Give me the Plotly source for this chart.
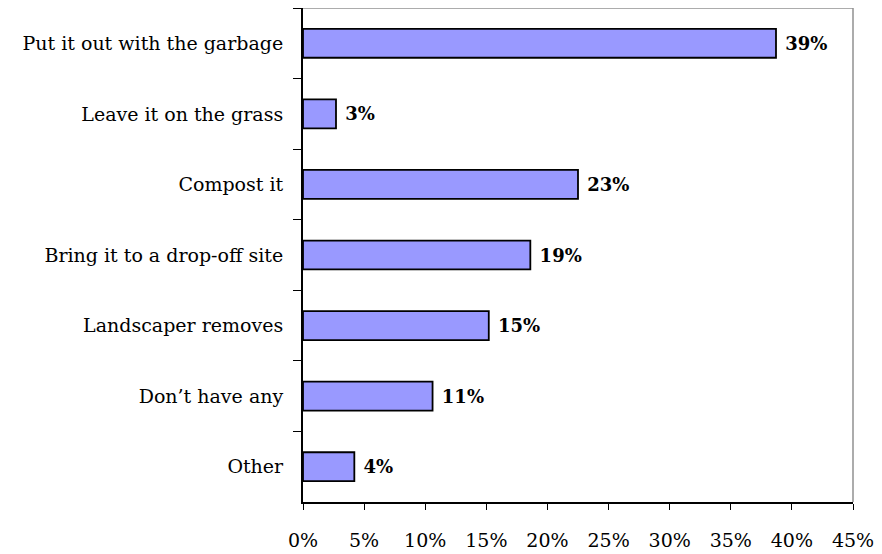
import plotly.graph_objects as go

categories = ["Put it out with the garbage", "Leave it on the grass", "Compost it",
              "Bring it to a drop-off site", "Landscaper removes", "Don\u2019t have any", "Other"]
values = [38.7, 2.7, 22.5, 18.6, 15.2, 10.6, 4.2]
value_labels = ["39%", "3%", "23%", "19%", "15%", "11%", "4%"]
tick_vals = [0, 5, 10, 15, 20, 25, 30, 35, 40, 45]
tick_text = ["0%", "5%", "10%", "15%", "20%", "25%", "30%", "35%", "40%", "45%"]

FONT = "DejaVu Serif"

fig = go.Figure(go.Bar(
    x=values, y=categories, orientation="h",
    marker=dict(color="#9999FF", line=dict(color="black", width=1.8)),
    width=0.41,
    text=value_labels, textposition="outside",
    texttemplate="\u00a0%{text}",
    textfont=dict(family=FONT, size=18, color="black", weight="bold"),
    cliponaxis=False,
))

# page body has an 8px margin, so margins are offset by 8px
fig.update_layout(
    width=882, height=554,
    margin=dict(l=295, r=37, t=0, b=60, pad=0, autoexpand=False),
    paper_bgcolor="white", plot_bgcolor="white",
    showlegend=False,
    font=dict(family=FONT, size=19, color="black"),
    bargap=0.59,
    xaxis=dict(range=[0, 45], tickvals=tick_vals, ticktext=tick_text,
               automargin=False,
               showgrid=False, zeroline=False, showline=True, linecolor="black", linewidth=1.5,
               ticks="outside", ticklen=6, tickcolor="black", tickwidth=1,
               ticklabelstandoff=14, tickfont=dict(family=FONT, size=19)),
    yaxis=dict(autorange="reversed", showgrid=False, zeroline=False, automargin=False,
               showline=True, linecolor="black", linewidth=2,
               ticks="outside", ticklen=8, tickcolor="black", tickwidth=1,
               tickson="boundaries", ticklabelstandoff=14,
               tickfont=dict(family=FONT, size=19)),
    shapes=[
        dict(type="line", xref="paper", yref="paper", x0=0, x1=1, y0=1, y1=1,
             line=dict(color="#909090", width=1.5)),
        dict(type="line", xref="paper", yref="paper", x0=1, x1=1, y0=0, y1=1,
             line=dict(color="#909090", width=1.5)),
    ],
)

fig.write_html("out.html")
